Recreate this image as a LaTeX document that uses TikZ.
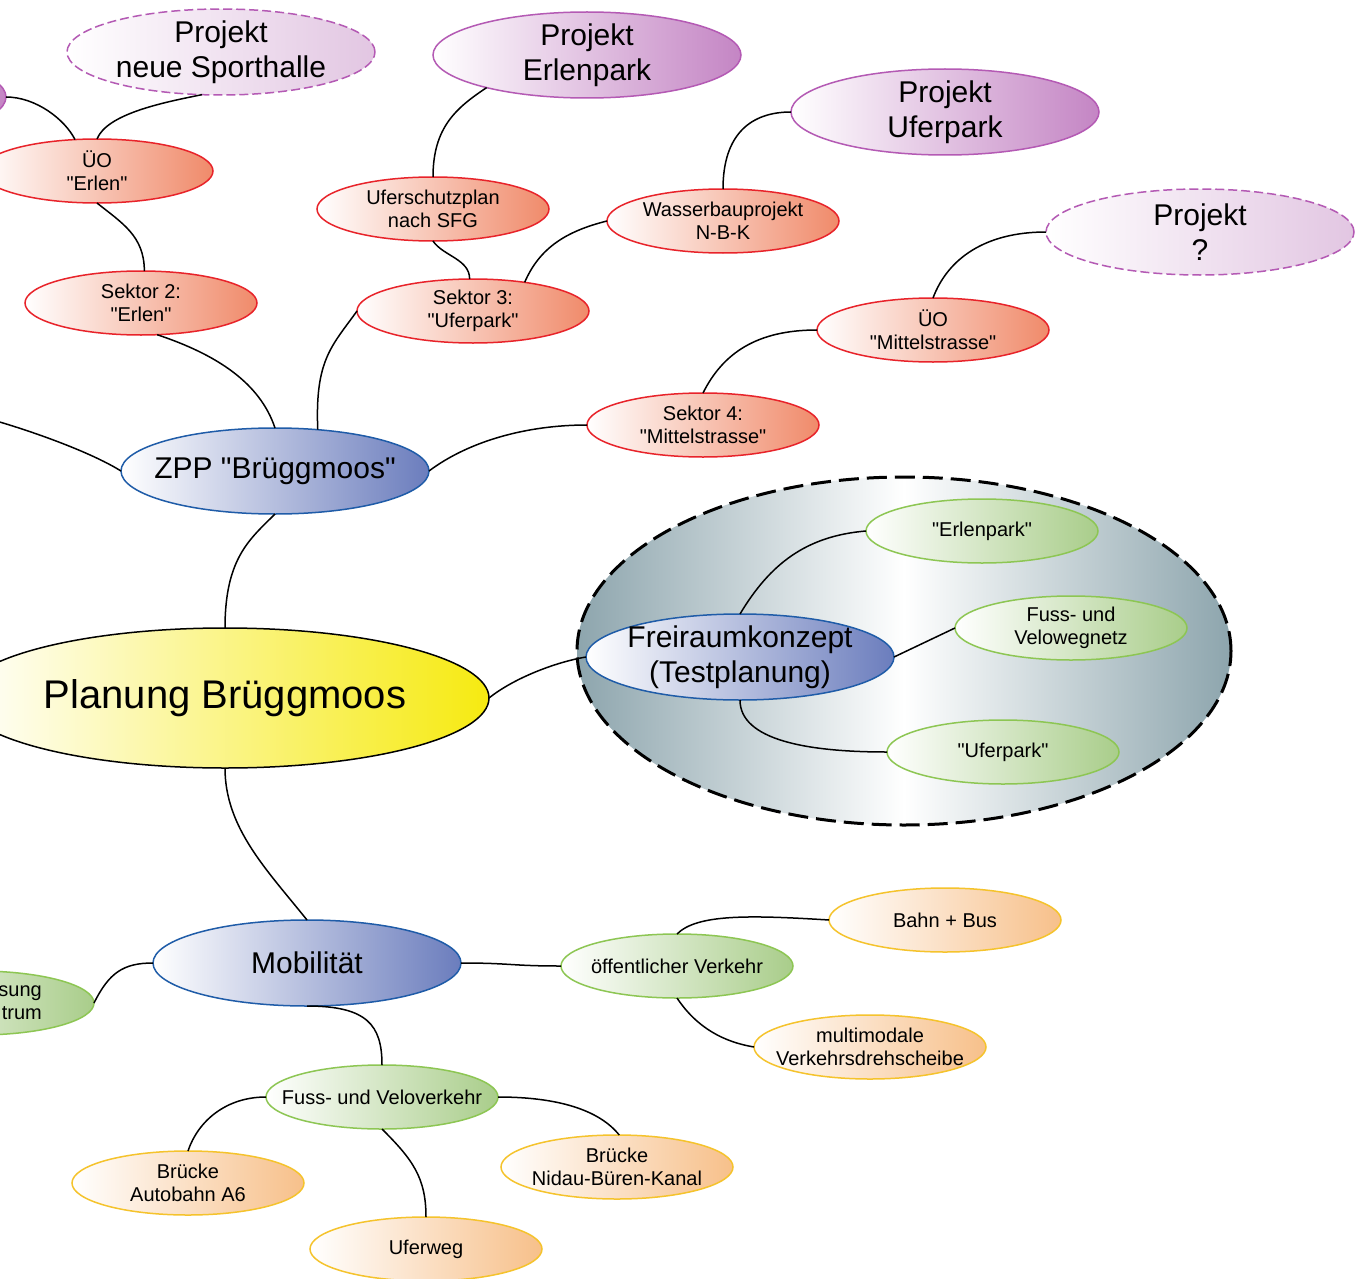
\documentclass[tikz,border=0pt]{standalone}
\usepackage{fontspec}
\setmainfont{Liberation Sans}[Ligatures=TeXOff]
\usetikzlibrary{shapes.geometric}
\definecolor{projB}{HTML}{B45AB4}
\definecolor{projF}{HTML}{C485C4}
\definecolor{projL}{HTML}{E2C6E2}
\definecolor{redB}{HTML}{E8232A}
\definecolor{redF}{HTML}{F08A6A}
\definecolor{blueB}{HTML}{1F5CA8}
\definecolor{blueF}{HTML}{6B7DBD}
\definecolor{yelF}{HTML}{F6EA10}
\definecolor{greenB}{HTML}{8DC653}
\definecolor{greenF}{HTML}{A9CD8A}
\definecolor{orangeB}{HTML}{F5C32C}
\definecolor{orangeF}{HTML}{F7C08A}
\definecolor{frameF}{HTML}{8DA5AD}
\tikzset{
  basenode/.style={ellipse, inner sep=-25pt, outer sep=0pt, align=center, line width=1.5pt, text=black},
  bignode/.style={basenode, minimum width=308pt, minimum height=86pt, font=\fontsize{30}{35}\selectfont},
  smallnode/.style={basenode, minimum width=232pt, minimum height=64pt, font=\fontsize{20}{23}\selectfont},
  sproj/.style={bignode, draw=projB, left color=white, right color=projF},
  sprojd/.style={bignode, draw=projB, dash pattern=on 9pt off 4pt, left color=white, right color=projL},
  sred/.style={smallnode, draw=redB, left color=white, right color=redF},
  sblue/.style={bignode, draw=blueB, left color=white, right color=blueF},
  sgreen/.style={smallnode, draw=greenB, left color=white, right color=greenF},
  sorange/.style={smallnode, draw=orangeB, left color=white, right color=orangeF},
  conn/.style={draw=black, line width=1.5pt}
}
\begin{document}
\begin{tikzpicture}[x=1pt,y=-1pt]
\useasboundingbox (0,0) rectangle (1355,1279);
\clip (0,0) rectangle (1355,1279);
\fill[white] (0,0) rectangle (1355,1279);

% big dashed frame
\node[ellipse, minimum width=654pt, minimum height=348pt, inner sep=0pt, outer sep=0pt,
      draw=black, line width=3pt, dash pattern=on 20pt off 8pt,
      left color=frameF, right color=frameF, middle color=white] (frame) at (904,651) {};

% root
\node[basenode, minimum width=528pt, minimum height=140pt, font=\fontsize{40}{46}\selectfont,
      draw=black, left color=white, right color=yelF] (plan) at (225,698) {Planung Brüggmoos};

% main branches
\node[sblue] (zpp) at (275,471) {ZPP "Brüggmoos"};
\node[sblue] (fk) at (740,657) {Freiraumkonzept\\(Testplanung)};
\node[sblue] (mob) at (307,963) {Mobilität};

% projects
\node[sprojd] (spo) at (221,52) {Projekt\\neue Sporthalle};
\node[sproj] (erl) at (587,55) {Projekt\\Erlenpark};
\node[sproj] (ufp) at (945,112) {Projekt\\Uferpark};
\node[sprojd] (pq) at (1200,232) {Projekt\\?};
\node[sproj] (pl) at (-148,97) {};

% red nodes
\node[sred] (uoe) at (97,171) {ÜO\\"Erlen"};
\node[sred] (sek2) at (141,303) {Sektor 2:\\"Erlen"};
\node[sred] (usp) at (433,209) {Uferschutzplan\\nach SFG};
\node[sred] (sek3) at (473,311) {Sektor 3:\\"Uferpark"};
\node[sred] (wbp) at (723,221) {Wasserbauprojekt\\N-B-K};
\node[sred] (uom) at (933,330) {ÜO\\"Mittelstrasse"};
\node[sred] (sek4) at (703,425) {Sektor 4:\\"Mittelstrasse"};

% green nodes
\node[sgreen] (erlp) at (982,531) {"Erlenpark"};
\node[sgreen] (fvn) at (1071,628) {Fuss- und\\Velowegnetz};
\node[sgreen] (ufp2) at (1003,752) {"Uferpark"};
\node[sgreen] (oev) at (677,966) {öffentlicher Verkehr};
\node[sgreen] (fvv) at (382,1097) {Fuss- und Veloverkehr};
\node[sgreen] (pg) at (-22,1003) {};
\node[anchor=east, align=right, font=\fontsize{20}{23}\selectfont, inner sep=0pt] (pgt) at (42,1003) {sung\\trum};

% orange nodes
\node[sorange] (bahn) at (945,920) {Bahn + Bus};
\node[sorange] (mm) at (870,1047) {multimodale\\Verkehrsdrehscheibe};
\node[sorange] (ba6) at (188,1183) {Brücke\\Autobahn A6};
\node[sorange] (bnbk) at (617,1167) {Brücke\\Nidau-Büren-Kanal};
\node[sorange] (uw) at (426,1249) {Uferweg};

\coordinate (offl) at (-40,412);

% connectors
\draw[conn] (plan.north) .. controls +(0,-70) and +(-25,25) .. (zpp.south);
\draw[conn] (plan.east) .. controls +(25,-20) and +(-30,5) .. (fk.west);
\draw[conn] (plan.south) .. controls +(0,60) and +(-40,-50) .. (mob.north);
\draw[conn] (zpp.north) .. controls +(-15,-45) and +(60,20) .. (sek2.-63);
\draw[conn] (zpp.44) .. controls +(-3,-70) and +(-25,35) .. (sek3.west);
\draw[conn] (zpp.east) .. controls +(40,-30) and +(-60,0) .. (sek4.west);
\draw[conn] (zpp.west) .. controls +(-40,-25) and +(30,5) .. (offl);
\draw[conn] (sek2.84) .. controls +(0,-35) and +(25,20) .. (uoe.south);
\draw[conn] (uoe.125) .. controls +(-10,-20) and +(30,0) .. (pl.east);
\draw[conn] (uoe.north) .. controls +(10,-25) and +(-40,8) .. (spo.-114);
\draw[conn] (sek3.96) .. controls +(0,-20) and +(10,15) .. (usp.south);
\draw[conn] (sek3.29) .. controls +(15,-35) and +(-40,10) .. (wbp.west);
\draw[conn] (usp.north) .. controls +(0,-50) and +(-30,20) .. (erl.-162);
\draw[conn] (wbp.north) .. controls +(0,-55) and +(-40,0) .. (ufp.west);
\draw[conn] (sek4.north) .. controls +(20,-40) and +(-60,0) .. (uom.west);
\draw[conn] (uom.north) .. controls +(15,-40) and +(-60,0) .. (pq.west);
\draw[conn] (fk.north) .. controls +(30,-50) and +(-60,5) .. (erlp.west);
\draw[conn] (fk.east) -- (fvn.west);
\draw[conn] (fk.south) .. controls +(0,40) and +(-80,0) .. (ufp2.west);
\draw[conn] (mob.east) .. controls +(50,0) and +(-50,0) .. (oev.west);
\draw[conn] (mob.west) .. controls +(-30,0) and +(15,-30) .. (pg.east);
\draw[conn] (mob.south) .. controls +(60,0) and +(0,-40) .. (fvv.north);
\draw[conn] (oev.north) .. controls +(20,-20) and +(-80,-5) .. (bahn.west);
\draw[conn] (oev.south) .. controls +(20,30) and +(-30,-5) .. (mm.west);
\draw[conn] (fvv.west) .. controls +(-40,0) and +(10,-30) .. (ba6.north);
\draw[conn] (fvv.east) .. controls +(60,0) and +(-20,-25) .. (bnbk.86);
\draw[conn] (fvv.south) .. controls +(30,30) and +(0,-40) .. (uw.north);
\end{tikzpicture}
\end{document}
